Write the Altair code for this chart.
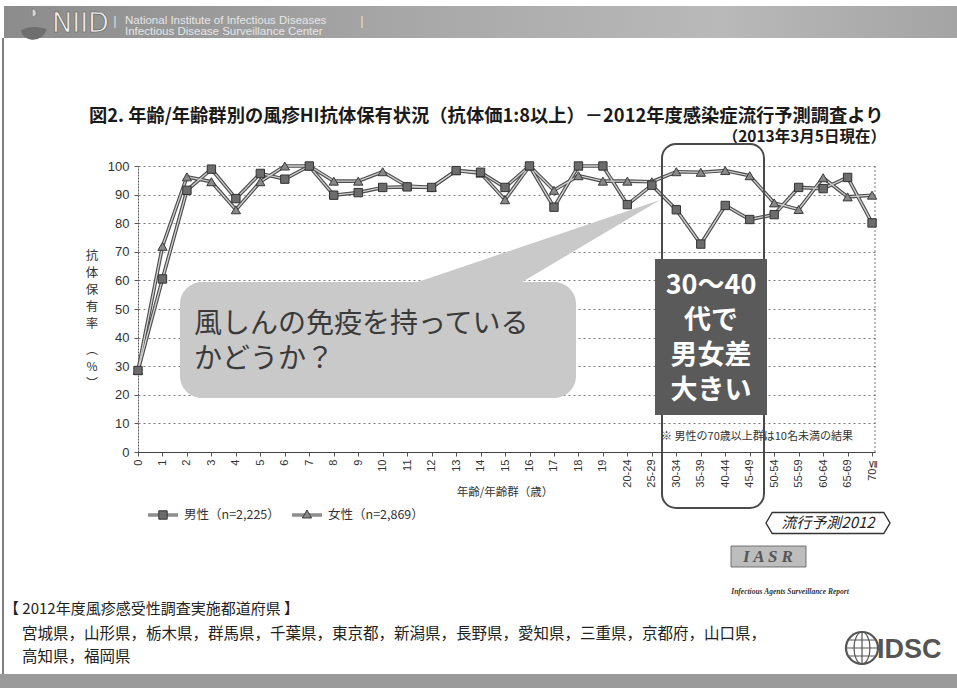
import altair as alt
import pandas as pd

# ---- data -------------------------------------------------------------
ages = [str(i) for i in range(20)] + [
    "20-24", "25-29", "30-34", "35-39", "40-44", "45-49",
    "50-54", "55-59", "60-64", "65-69", "70≦",
]
male_rate = [
    28.5, 60.5, 91.5, 98.9, 88.6, 97.4, 95.4, 100.0, 89.8, 90.7,
    92.5, 92.7, 92.5, 98.4, 97.8, 92.5, 100.0, 85.6, 100.0, 100.0,
    86.5, 93.3, 84.7, 72.7, 86.2, 81.3, 83.0, 92.5, 92.1, 96.0, 80.1,
]
female_rate = [
    28.5, 71.9, 96.2, 94.5, 84.7, 94.5, 100.0, 100.0, 94.7, 94.7,
    98.0, 93.0, 92.5, 98.4, 97.5, 88.2, 100.0, 91.5, 96.6, 94.7,
    94.7, 94.5, 98.0, 97.8, 98.4, 96.6, 87.1, 84.8, 95.9, 89.2, 89.8,
]
y_ticks = list(range(0, 101, 10))

male_label = "男性（n=2,225）"
female_label = "女性（n=2,869）"
title_text = "図2. 年齢/年齢群別の風疹HI抗体保有状況（抗体価1:8以上）－2012年度感染症流行予測調査より"
date_text = "（2013年3月5日現在）"
y_title_top = ["抗", "体", "保", "有", "率"]
y_title_unit = ["︵", "%", "︶"]
x_title = "年齢/年齢群（歳）"
bubble_lines = ["風しんの免疫を持っている", "かどうか？"]
box_lines = ["30～40", "代で", "男女差", "大きい"]
note_text = "※ 男性の70歳以上群は10名未満の結果"
badge_text = "流行予測2012"
iasr_caption = "Infectious Agents Surveillance Report"
prefs_heading = "【 2012年度風疹感受性調査実施都道府県 】"
prefs_lines = [
    "宮城県，山形県，栃木県，群馬県，千葉県，東京都，新潟県，長野県，愛知県，三重県，京都府，山口県，",
    "高知県，福岡県",
]
header_lines = ["National Institute of Infectious Diseases", "Infectious Disease Surveillance Center"]

# ---- page geometry ----------------------------------------------------
PAGE_W, PAGE_H = 957, 688
L, T = 138, 166          # plot origin on the page
W, H = 737, 286          # plot area
JP = "Noto Sans CJK JP"
SANS = "Liberation Sans"

one = pd.DataFrame({"k": [0]})


def at(x, y):
    return dict(x=alt.value(x - L), y=alt.value(y - T))


def label(s, x, y, size, font=JP, **kw):
    return alt.Chart(one).mark_text(fontSize=size, font=font, **kw).encode(
        text=alt.value(s), **at(x, y))


def box(x1, y1, x2, y2, **kw):
    return alt.Chart(one).mark_rect(**kw).encode(
        x=alt.value(x1 - L), x2=alt.value(x2 - L),
        y=alt.value(y1 - T), y2=alt.value(y2 - T))


def rule(x1, y1, x2, y2, **kw):
    return alt.Chart(one).mark_rule(**kw).encode(
        x=alt.value(x1 - L), x2=alt.value(x2 - L),
        y=alt.value(y1 - T), y2=alt.value(y2 - T))


def shape(path, cx, cy, r, **kw):
    kw.setdefault("opacity", 1)
    return alt.Chart(one).mark_point(shape=path, size=(2 * r) ** 2, **kw).encode(**at(cx, cy))


# ---- main series ------------------------------------------------------
df = pd.DataFrame({
    "age": ages * 2,
    "sex": ["男性"] * len(ages) + ["女性"] * len(ages),
    "rate": male_rate + female_rate,
})

x_enc = alt.X(
    "age:N", sort=ages,
    scale=alt.Scale(type="point", padding=0.06, align=0),
    axis=alt.Axis(
        title=None, labelAngle=270, labelFont=SANS, labelFontSize=11,
        labelColor="#333", labelPadding=3, domainColor="#444", domainWidth=1.2,
        tickColor="#555", tickSize=4, grid=False,
    ),
)
y_enc = alt.Y(
    "rate:Q", scale=alt.Scale(domain=[0, 100], nice=False),
    axis=alt.Axis(
        title=None, values=y_ticks, labelFont=SANS, labelFontSize=13,
        labelColor="#333", labelPadding=5, domainColor="#555", domainDash=[2, 1],
        tickColor="#555", tickSize=4, grid=True, gridColor="#7a7a7a",
        gridDash=[2, 3], gridWidth=1,
    ),
)

base = alt.Chart(df).encode(x=x_enc, y=y_enc, detail="sex:N")
line_outer = base.mark_line(color="#4e4e4e", strokeWidth=3.6)
line_inner = base.mark_line(color="#cfcfcf", strokeWidth=1.3)
female_pts = base.transform_filter(alt.datum.sex == "女性").mark_point(
    shape="triangle-up", filled=True, size=85, fill="#888", stroke="#3a3a3a",
    strokeWidth=1, opacity=1)
male_pts = base.transform_filter(alt.datum.sex == "男性").mark_point(
    shape="square", filled=True, size=70, fill="#6c6c6c", stroke="#333",
    strokeWidth=1, opacity=1)

# ---- decorations ------------------------------------------------------
header_fill = alt.Gradient(
    gradient="linear", x1=0, x2=1, y1=0, y2=0,
    stops=[alt.GradientStop(color="#8c8c8c", offset=0),
           alt.GradientStop(color="#a9a9a9", offset=0.45),
           alt.GradientStop(color="#b9b9b9", offset=0.75),
           alt.GradientStop(color="#a4a4a4", offset=1)],
)

layers = [
    # page bands and frame
    box(4, 6, PAGE_W, 38, fill=header_fill),
    box(0, 674, PAGE_W, PAGE_H, fill="#9a9a9a"),
    rule(3, 38, 3, 674, color="#555", strokeWidth=1.5),
    # header logo and institute name
    shape("M -0.2 -0.9 A 0.45 0.45 0 1 1 -0.2 0.0 Z", 34, 17, 9, filled=True, fill="#d9d9d9", stroke="#777", strokeWidth=0.8),
    shape("M -1 0.2 Q -0.2 -0.3 1 0.1 Q 0.6 1 -0.2 0.9 Q -0.9 0.8 -1 0.2 Z", 34, 28, 13, filled=True, fill="#6e6e6e", strokeWidth=0),
    label("NIID", 52, 24, 27, font="DejaVu Sans", align="left", fill="#efefef", stroke="#555", strokeWidth=0.6),
    label("|", 115, 21, 13, font=SANS, color="#dedede"),
    label(header_lines[0], 125, 21, 11.5, font=SANS, align="left", color="#e6e6e6"),
    label(header_lines[1], 125, 32, 11.5, font=SANS, align="left", color="#e6e6e6"),
    label("|", 362, 21, 13, font=SANS, color="#dedede"),
    # titles
    label(title_text, 89, 117, 18.3, align="left", fontWeight="bold", color="#1a1a1a"),
    label(date_text, 886, 137, 15.5, align="right", fontWeight="bold", color="#1a1a1a"),
    # axes titles
    alt.Chart(one).mark_text(fontSize=12.5, font=JP, baseline="top", lineHeight=17, color="#333").encode(
        text=alt.value(y_title_top), **at(92, 250)),
    alt.Chart(one).mark_text(fontSize=12, font=JP, baseline="top", lineHeight=17, color="#333").encode(
        text=alt.value(y_title_unit), **at(92, 345)),
    label(x_title, 505, 493, 11.5, color="#333"),
    # plot right border
    rule(875, 166, 875, 452, color="#7a7a7a", strokeDash=[2, 2]),
    # callout bubble
    shape("M -1.3 0.42 L -0.18 0.42 L 1.3 -0.46 Z", 530, 246, 100, filled=True, fill="#c9c9c9", strokeWidth=0),
    box(180, 282, 576, 398, fill="#c9c9c9", cornerRadius=22),
    alt.Chart(one).mark_text(fontSize=28, font=JP, align="left", baseline="middle", lineHeight=35, color="#3a3a3a").encode(
        text=alt.value(bubble_lines), **at(194, 325)),
    # series
    line_outer, line_inner, female_pts, male_pts,
    # highlight for 30s-40s
    box(662, 144, 764, 508, fill=None, stroke="#4a4a4a", strokeWidth=2, cornerRadius=14),
    box(655, 259, 767, 415, fill="#5a5a5a"),
    alt.Chart(one).mark_text(fontSize=27, font=JP, fontWeight="bold", baseline="middle", lineHeight=35, color="white").encode(
        text=alt.value(box_lines), **at(711, 286)),
    label(note_text, 757, 437, 11, color="#333"),
    # legend
    rule(148, 515, 178, 515, color="#4e4e4e", strokeWidth=3),
    rule(148, 515, 178, 515, color="#cfcfcf", strokeWidth=1),
    shape("square", 163, 515, 4.2, filled=True, fill="#6c6c6c", stroke="#333", strokeWidth=1),
    label(male_label, 184, 515, 12.5, align="left", color="#333"),
    rule(292, 515, 322, 515, color="#4e4e4e", strokeWidth=3),
    rule(292, 515, 322, 515, color="#cfcfcf", strokeWidth=1),
    shape("triangle-up", 307, 514, 4.6, filled=True, fill="#888", stroke="#3a3a3a", strokeWidth=1),
    label(female_label, 328, 515, 12.5, align="left", color="#333"),
    # survey badge
    shape("M -1 0 L -0.9 -0.17 L 0.9 -0.17 L 1 0 L 0.9 0.17 L -0.9 0.17 Z", 828, 523, 62, filled=False, stroke="#333", strokeWidth=1.4),
    label(badge_text, 828, 523, 15, fontStyle="italic", color="#222"),
    # IASR mark
    box(731, 546, 806, 567, fill="#bdbdbd", stroke="#555", strokeWidth=0.8),
    label("I A S R", 768, 557, 17, font="Liberation Serif", fontStyle="italic", fontWeight="bold", color="#555"),
    label(iasr_caption, 790, 592, 7.5, font="Liberation Serif", fontStyle="italic", fontWeight="bold", color="#333"),
    # prefecture list
    label(prefs_heading, 4, 609, 15, align="left", color="#222"),
    label(prefs_lines[0], 22, 634, 15.5, align="left", color="#222"),
    label(prefs_lines[1], 22, 657, 15.5, align="left", color="#222"),
    # IDSC mark
    shape("circle", 862, 648, 16, filled=False, stroke="#555", strokeWidth=2.2),
    shape("M -1 0 L 1 0 M 0 -1 L 0 1 M -0.85 -0.5 L 0.85 -0.5 M -0.85 0.5 L 0.85 0.5 M 0 -1 A 0.5 1 0 0 0 0 1 A 0.5 1 0 0 0 0 -1",
          862, 648, 16, filled=False, stroke="#555", strokeWidth=1.2),
    label("IDSC", 877, 650, 27, font=SANS, align="left", fontWeight="bold", color="#555"),
]

chart = alt.layer(*layers).properties(
    width=W, height=H,
    padding={"left": L, "top": T, "right": PAGE_W - L - W, "bottom": PAGE_H - T - H},
    autosize=alt.AutoSizeParams(type="none"),
    background="white",
).configure_view(stroke=None)

chart.save("out.html", embed_options={"renderer": "svg", "actions": False})
